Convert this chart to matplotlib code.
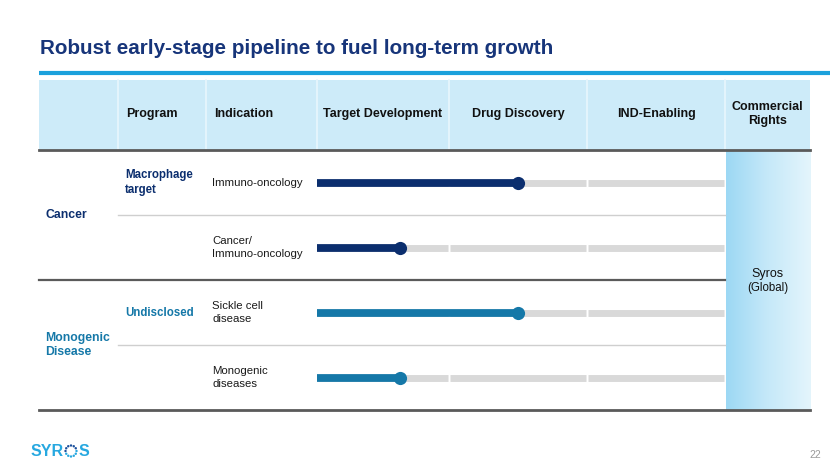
import numpy as np
import matplotlib.pyplot as plt
from matplotlib.colors import LinearSegmentedColormap

plt.rcParams['font.family'] = ['Liberation Sans', 'DejaVu Sans']

# Pipeline data
title = "Robust early-stage pipeline to fuel long-term growth"
headers = ["Program", "Indication", "Target Development", "Drug Discovery", "IND-Enabling", "Commercial\nRights"]
stages = ["Target Development", "Drug Discovery", "IND-Enabling"]
groups = ["Cancer", "Monogenic\nDisease"]
group_rows = [2, 2]
programs = ["Macrophage\ntarget", "", "Undisclosed", ""]
indications = ["Immuno-oncology", "Cancer/\nImmuno-oncology", "Sickle cell\ndisease", "Monogenic\ndiseases"]
progress = [1.5, 0.63, 1.5, 0.63]   # in stages completed
rights = "Syros"
rights_note = "(Global)"

NAVY = "#0b2e6e"
TEAL = "#1578a8"
group_colors = [NAVY, TEAL]
row_colors = [NAVY, NAVY, TEAL, TEAL]

W, H = 830, 467
fig = plt.figure(figsize=(W / 100, H / 100), dpi=100)
fig.patch.set_facecolor("white")

# layout axes in pixel units
ax = fig.add_axes([0, 0, 1, 1])
ax.axis("off")

left, right = 39, 810
head_top, head_bot = 80, 150
table_bot = 410
row_h = (table_bot - head_bot) / len(indications)
col_x = [118, 206, 317, 449, 587, 725]
stage_left, stage_right = col_x[2], col_x[5]
LS = 1.32

# title and rule
ax.text(40, 48, title, fontsize=14.9, fontweight="bold", color="#17357a", va="center", ha="left")
ax.plot([39, 830], [73, 73], color="#1ba1dc", lw=3, solid_capstyle="butt")

# header band
ax.fill_between([left, right], head_top, head_bot, color="#cdebf9", lw=0)
for x in col_x:
    ax.plot([x, x], [head_top, head_bot], color="#e8f6fd", lw=1.2)

head_centers = [None, None,
                (col_x[2] + col_x[3]) / 2, (col_x[3] + col_x[4]) / 2,
                (col_x[4] + col_x[5]) / 2, (col_x[5] + right) / 2]
for i, h in enumerate(headers):
    if i < 2:
        ax.text(col_x[i] + 8, 114, h, fontsize=9, fontweight="bold", color="#111111", va="center", ha="left")
    else:
        ax.text(head_centers[i], 114, h, fontsize=9, fontweight="bold", color="#111111",
                va="center", ha="center", linespacing=LS)

# commercial rights column with gradient
grad = np.linspace(0, 1, 200).reshape(1, -1)
cmap = LinearSegmentedColormap.from_list("rights", ["#9cd8f4", "#c6e9f9", "#e4f5fc"])
ax.imshow(grad, cmap=cmap, extent=(col_x[5] + 1, right, table_bot, head_bot), aspect="auto", zorder=1)
ax.text((col_x[5] + right) / 2, 274, rights, fontsize=9, color="#111111", ha="center", va="center", zorder=3)
ax.text((col_x[5] + right) / 2, 288, rights_note, fontsize=8.3, color="#111111", ha="center", va="center", zorder=3)

# row lines
for i in range(1, len(indications)):
    y = head_bot + i * row_h
    if i in np.cumsum(group_rows):
        ax.plot([left, col_x[5]], [y, y], color="#5a5a5a", lw=1.6, zorder=2)
    else:
        ax.plot([col_x[0], col_x[5]], [y, y], color="#cfcfcf", lw=1, zorder=2)
ax.plot([left, right], [head_bot, head_bot], color="#5a5a5a", lw=2, zorder=4)
ax.plot([left, right], [table_bot, table_bot], color="#5a5a5a", lw=2, zorder=4)

# group labels
start = 0
for g, n, c in zip(groups, group_rows, group_colors):
    yc = head_bot + (start + n / 2) * row_h
    ax.text(45, yc, g, fontsize=8.8, fontweight="bold", color=c, ha="left", va="center", linespacing=LS)
    start += n

# program and indication labels
for i, (p, ind) in enumerate(zip(programs, indications)):
    yc = head_bot + (i + 0.5) * row_h
    if p:
        ax.text(125, yc, p, fontsize=8.3, fontweight="bold", color=row_colors[i], ha="left", va="center",
                linespacing=LS)
    ax.text(212, yc, ind, fontsize=8.2, color="#1a1a1a", ha="left", va="center", linespacing=LS)

# footer: logo with a dotted "O"
ax.text(31, 451, "SYR", fontsize=11.5, fontweight="bold", color="#27a8e0", ha="left", va="center")
ang = np.linspace(0, 2 * np.pi, 12, endpoint=False)
dot_cols = ["#1b4f9c" if np.sin(a) > 0 else "#27a8e0" for a in ang]
ax.scatter(71 + 5.5 * np.cos(ang), 451 - 5.5 * np.sin(ang), s=3, c=dot_cols, linewidths=0)
ax.text(79, 451, "S", fontsize=11.5, fontweight="bold", color="#27a8e0", ha="left", va="center")
ax.text(815, 455, "22", fontsize=7.5, color="#9a9a9a", ha="center", va="center")

ax.set_xlim(0, W)
ax.set_ylim(H, 0)

# progress bars on their own axes, x in stage units (stage columns differ slightly in width)
stage_edges_px = np.array(col_x[2:]) - stage_left
stage_idx = np.arange(len(stages) + 1)


def fwd(x):
    return np.interp(x, stage_idx, stage_edges_px)


def inv(x):
    return np.interp(x, stage_edges_px, stage_idx)


bx = fig.add_axes([stage_left / W, 1 - table_bot / H, (stage_right - stage_left) / W, (table_bot - head_bot) / H])
bx.set_xscale("function", functions=(fwd, inv))
bx.set_xlim(0, len(stages))
bx.set_ylim(len(indications), 0)
bx.axis("off")
bx.patch.set_alpha(0)

gap = 0.008
for i in range(len(indications)):
    y = i + 0.5
    for s in range(len(stages)):
        bx.hlines(y, s + gap, s + 1 - gap, color="#d9d9d9", lw=5, capstyle="butt")
    bx.hlines(y, 0, progress[i], color=row_colors[i], lw=5.6, capstyle="butt", zorder=3)
    bx.scatter([progress[i]], [y], s=90, color=row_colors[i], zorder=4, clip_on=False, linewidths=0)

plt.savefig("out.png", dpi=100)
